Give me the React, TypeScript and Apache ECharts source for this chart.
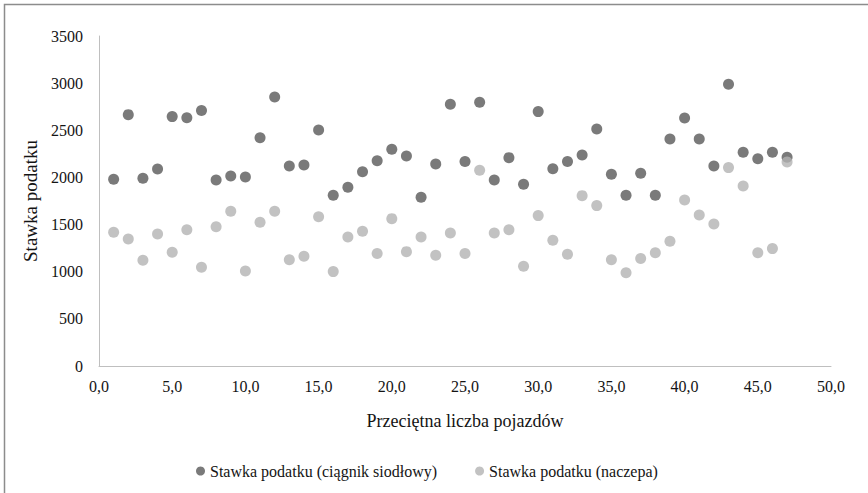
import React, { useEffect, useRef } from "react";
import * as echarts from "echarts";

const xValues = [1,2,3,4,5,6,7,8,9,10,11,12,13,14,15,16,17,18,19,20,21,22,23,24,25,26,27,28,29,30,31,32,33,34,35,36,37,38,39,40,41,42,43,44,45,46,47];
const ciagnik = [1980,2666,1991,2090,2645,2634,2709,1973,2016,2005,2422,2854,2122,2132,2503,1810,1895,2061,2178,2298,2228,1789,2143,2776,2168,2797,1973,2210,1927,2698,2092,2168,2238,2514,2033,1810,2044,1810,2408,2631,2408,2122,2988,2267,2199,2267,2214];
const naczepa = [1418,1347,1121,1400,1206,1446,1047,1478,1641,1008,1524,1641,1128,1163,1584,1001,1368,1429,1192,1563,1213,1368,1174,1411,1192,2076,1411,1446,1057,1595,1333,1185,1807,1701,1128,990,1139,1202,1322,1761,1602,1506,2104,1909,1202,1245,2164];
const seriesNames = ["Stawka podatku (ciągnik siodłowy)", "Stawka podatku (naczepa)"];
const xTitle = "Przeciętna liczba pojazdów";
const yTitle = "Stawka podatku";

const FONT = "'Liberation Serif', 'Times New Roman', serif";
const TEXT = "#141414";

export default function App() {
  const ref = useRef<HTMLDivElement>(null);
  useEffect(() => {
    if (!ref.current) return;
    const chart = echarts.init(ref.current, null, { renderer: "svg" });
    const d1 = xValues.map((x, i) => [x, ciagnik[i]]);
    const d2 = xValues.map((x, i) => [x, naczepa[i]]);
    chart.setOption({
      animation: false,
      backgroundColor: "#ffffff",
      textStyle: { fontFamily: FONT },
      graphic: [
        {
          type: "rect",
          shape: { x: 4.5, y: 4.5, width: 900, height: 600 },
          style: { fill: "none", stroke: "#8c8c8c", lineWidth: 1.5 },
          silent: true,
        },
      ],
      grid: { left: 99, right: 37, top: 36, bottom: 127 },
      legend: {
        left: 191,
        top: 458,
        itemWidth: 9,
        itemHeight: 9,
        itemGap: 38,
        icon: "circle",
        textStyle: { fontFamily: FONT, fontSize: 16, color: TEXT },
        data: seriesNames,
      },
      xAxis: {
        type: "value",
        min: 0,
        max: 50,
        interval: 5,
        name: xTitle,
        nameLocation: "middle",
        nameGap: 46,
        nameTextStyle: { fontFamily: FONT, fontSize: 18, color: TEXT },
        axisLine: { show: true, lineStyle: { color: "#bfbfbf", width: 1 } },
        axisTick: { show: false },
        splitLine: { show: false },
        axisLabel: {
          margin: 12,
          fontFamily: FONT,
          fontSize: 16,
          color: TEXT,
          formatter: (v: number) => v.toFixed(1).replace(".", ","),
        },
      },
      yAxis: {
        type: "value",
        min: 0,
        max: 3500,
        interval: 500,
        name: yTitle,
        nameLocation: "middle",
        nameGap: 55,
        nameTextStyle: { fontFamily: FONT, fontSize: 19, color: TEXT },
        axisLine: { show: true, lineStyle: { color: "#bfbfbf", width: 1 } },
        axisTick: { show: false },
        splitLine: { show: false },
        axisLabel: {
          margin: 16,
          fontFamily: FONT,
          fontSize: 16,
          color: TEXT,
          formatter: (v: number) => String(v),
        },
      },
      series: [
        {
          name: seriesNames[0],
          type: "scatter",
          symbol: "circle",
          symbolSize: 11,
          itemStyle: { color: "#595959" },
          data: d1,
        },
        {
          name: seriesNames[1],
          type: "scatter",
          symbol: "circle",
          symbolSize: 11,
          itemStyle: { color: "#b3b3b3" },
          data: d2,
        },
      ],
    });
    return () => chart.dispose();
  }, []);
  return (
    <div
      ref={ref}
      style={{ position: "fixed", left: 0, top: 0, width: 868, height: 493 }}
    />
  );
}
